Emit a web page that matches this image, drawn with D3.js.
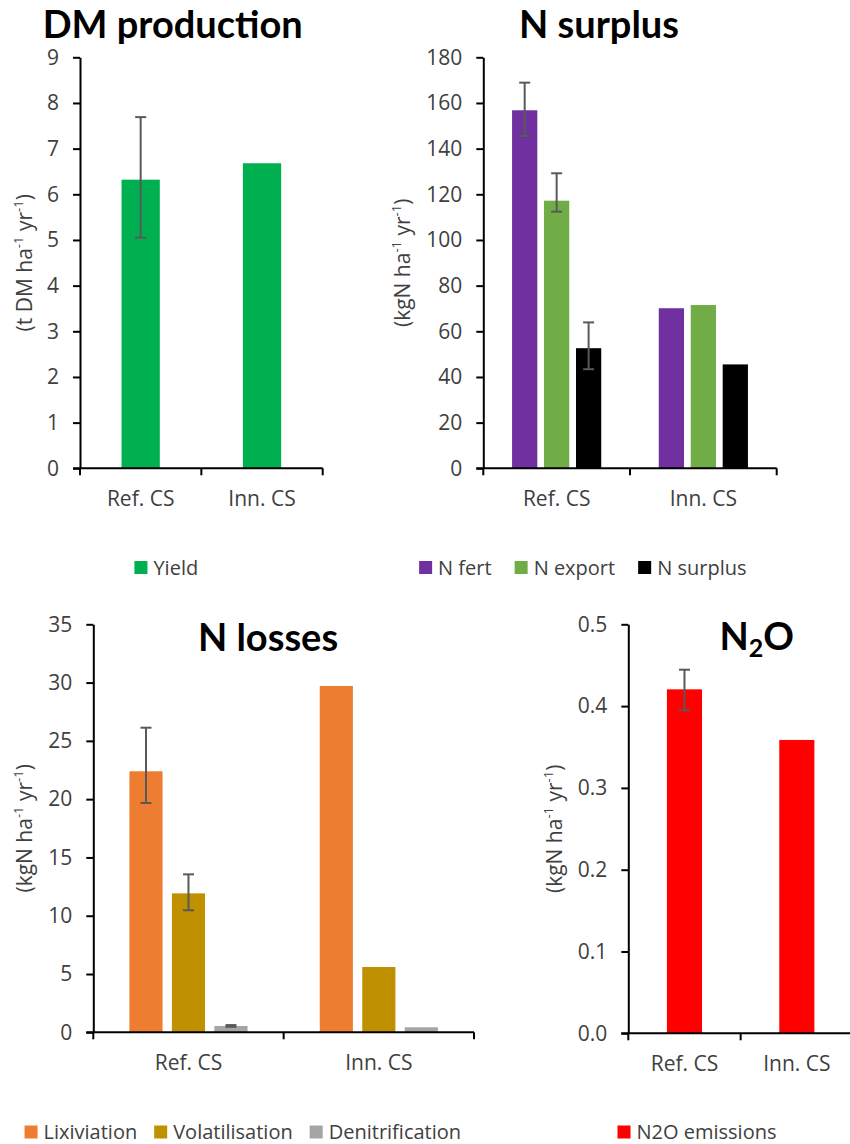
<!DOCTYPE html>
<html>
<head>
<meta charset="utf-8">
<script src="https://cdn.jsdelivr.net/npm/d3@7"></script>
<style>
  html, body { margin: 0; padding: 0; background: #fff; }
  svg { display: block; }
  text { font-family: "Open Sans", "DejaVu Sans", sans-serif; fill: #404040; }
  .title { font-family: Lato, "Open Sans", sans-serif; font-weight: bold; fill: #000; }
</style>
</head>
<body>
<svg id="chart" width="850" height="1144"></svg>
<script>
// ---------- DATA ----------
const categories = ["Ref. CS", "Inn. CS"];

// DM production
const dmSeries = ["Yield"];
const dmYield = [6.32, 6.68];
const dmYieldErrLow = [5.05, null];
const dmYieldErrHigh = [7.69, null];
const dmTicks = [0, 1, 2, 3, 4, 5, 6, 7, 8, 9];

// N surplus
const nsSeries = ["N fert", "N export", "N surplus"];
const nsFert = [156.8, 70.1];
const nsFertErrLow = [145.5, null];
const nsFertErrHigh = [168.9, null];
const nsExport = [117.2, 71.5];
const nsExportErrLow = [112.4, null];
const nsExportErrHigh = [129.2, null];
const nsSurplus = [52.6, 45.5];
const nsSurplusErrLow = [43.4, null];
const nsSurplusErrHigh = [63.9, null];
const nsTicks = [0, 20, 40, 60, 80, 100, 120, 140, 160, 180];

// N losses
const nlSeries = ["Lixiviation", "Volatilisation", "Denitrification"];
const nlLix = [22.39, 29.71];
const nlLixErrLow = [19.67, null];
const nlLixErrHigh = [26.13, null];
const nlVol = [11.92, 5.6];
const nlVolErrLow = [10.47, null];
const nlVolErrHigh = [13.55, null];
const nlDen = [0.54, 0.43];
const nlDenErrLow = [0.47, null];
const nlDenErrHigh = [0.62, null];
const nlTicks = [0, 5, 10, 15, 20, 25, 30, 35];

// N2O
const n2oSeries = ["N2O emissions"];
const n2oEmis = [0.4205, 0.3586];
const n2oEmisErrLow = [0.395, null];
const n2oEmisErrHigh = [0.4445, null];
const n2oTicks = [0, 0.1, 0.2, 0.3, 0.4, 0.5];

// ---------- STYLE / LAYOUT ----------
const svg = d3.select("#chart");
const ERR_COLOR = "#595959";
const AXIS_COLOR = "#000";
const FS = 21;
const LFS = 20;

const panels = [
  {
    series: dmSeries, colors: ["#00B050"],
    values: [dmYield], errLow: [dmYieldErrLow], errHigh: [dmYieldErrHigh],
    ticks: dmTicks, fmt: d3.format("d"),
    x0: 80, x1: 322.7, yTop: 57.3, yBot: 468.3,
    padInner: 0, padOuter: 1.085,
    ylabel: ["(t DM ha", "-1", " yr", "-1", ")"], ylabelX: 25,
    title: "DM production", titleX: 42.7, titleY: 38, titleAnchor: "start",
    legendCx: 166.3, legendY: 567.5, legendGap: 20
  },
  {
    series: nsSeries, colors: ["#7030A0", "#70AD47", "#000000"],
    values: [nsFert, nsExport, nsSurplus],
    errLow: [nsFertErrLow, nsExportErrLow, nsSurplusErrLow],
    errHigh: [nsFertErrHigh, nsExportErrHigh, nsSurplusErrHigh],
    ticks: nsTicks, fmt: d3.format("d"),
    x0: 483.3, x1: 776.7, yTop: 57.3, yBot: 468.3,
    padInner: 0.21, padOuter: 0.9,
    ylabel: ["(kgN ha", "-1", " yr", "-1", ")"], ylabelX: 403,
    title: "N surplus", titleX: 599, titleY: 38, titleAnchor: "middle",
    legendCx: 582.8, legendY: 567.5, legendGap: 23
  },
  {
    series: nlSeries, colors: ["#ED7D31", "#BF9000", "#A5A5A5"],
    values: [nlLix, nlVol, nlDen],
    errLow: [nlLixErrLow, nlVolErrLow, nlDenErrLow],
    errHigh: [nlLixErrHigh, nlVolErrHigh, nlDenErrHigh],
    ticks: nlTicks, fmt: d3.format("d"),
    x0: 93.3, x1: 474, yTop: 624.3, yBot: 1032.3,
    padInner: 0.22, padOuter: 0.85,
    ylabel: ["(kgN ha", "-1", " yr", "-1", ")"], ylabelX: 25,
    title: "N losses", titleX: 268, titleY: 651, titleAnchor: "middle",
    legendCx: 242.8, legendY: 1132, legendGap: 17
  },
  {
    series: n2oSeries, colors: ["#FF0000"],
    values: [n2oEmis], errLow: [n2oEmisErrLow], errHigh: [n2oEmisErrHigh],
    ticks: n2oTicks, fmt: d3.format(".1f"),
    x0: 628.3, x1: 853, yTop: 624.3, yBot: 1033.3,
    padInner: 0, padOuter: 1.1,
    ylabel: ["(kgN ha", "-1", " yr", "-1", ")"], ylabelX: 555,
    title: "N2O", titleX: 756.7, titleY: 650, titleAnchor: "middle", sub: true,
    legendCx: 697, legendY: 1132, legendGap: 20
  }
];

panels.forEach(p => {
  const g = svg.append("g");
  const x = d3.scaleBand().domain(categories).range([p.x0, p.x1]).paddingInner(0).paddingOuter(0);
  const xs = d3.scaleBand().domain(p.series).range([0, x.bandwidth()])
    .paddingInner(p.padInner).paddingOuter(p.padOuter);
  const ymax = p.ticks[p.ticks.length - 1];
  const y = d3.scaleLinear().domain([0, ymax]).range([p.yBot, p.yTop]);

  // bars
  p.series.forEach((s, si) => {
    const sg = g.append("g");
    sg.selectAll("rect").data(categories).join("rect")
      .attr("x", c => x(c) + xs(s))
      .attr("width", xs.bandwidth())
      .attr("y", (c, ci) => y(p.values[si][ci]))
      .attr("height", (c, ci) => y(0) - y(p.values[si][ci]))
      .attr("fill", p.colors[si]);
    // error bars
    const errData = categories.map((c, ci) => ({ c, lo: p.errLow[si][ci], hi: p.errHigh[si][ci] }))
      .filter(d => d.lo != null && d.hi != null);
    const eg = sg.selectAll("g.err").data(errData).join("g").attr("class", "err")
      .attr("stroke", ERR_COLOR).attr("stroke-width", 2);
    const cx = d => x(d.c) + xs(s) + xs.bandwidth() / 2;
    eg.append("line").attr("x1", cx).attr("x2", cx).attr("y1", d => y(d.lo)).attr("y2", d => y(d.hi));
    eg.append("line").attr("x1", d => cx(d) - 5.5).attr("x2", d => cx(d) + 5.5).attr("y1", d => y(d.lo)).attr("y2", d => y(d.lo));
    eg.append("line").attr("x1", d => cx(d) - 5.5).attr("x2", d => cx(d) + 5.5).attr("y1", d => y(d.hi)).attr("y2", d => y(d.hi));
  });

  // y axis
  const ya = g.append("g").attr("transform", `translate(${p.x0},0)`)
    .call(d3.axisLeft(y).tickValues(p.ticks).tickFormat(p.fmt).tickSize(7).tickSizeOuter(0).tickPadding(14));
  ya.select(".domain").attr("stroke", AXIS_COLOR).attr("stroke-width", 2);
  ya.selectAll(".tick line").attr("stroke", AXIS_COLOR).attr("stroke-width", 2);
  ya.selectAll(".tick text").attr("font-size", FS).attr("font-family", "'Open Sans', sans-serif").attr("fill", "#404040");

  // x axis (ticks at category boundaries)
  const xg = g.append("g");
  xg.append("line").attr("x1", p.x0 - 7).attr("x2", p.x1).attr("y1", y(0)).attr("y2", y(0))
    .attr("stroke", AXIS_COLOR).attr("stroke-width", 2);
  const bounds = categories.map(c => x(c)).concat([x.range()[1]]);
  xg.selectAll("line.tk").data(bounds).join("line").attr("class", "tk")
    .attr("x1", d => d).attr("x2", d => d).attr("y1", y(0)).attr("y2", y(0) + 7)
    .attr("stroke", AXIS_COLOR).attr("stroke-width", 2);
  xg.selectAll("text").data(categories).join("text")
    .attr("x", c => x(c) + x.bandwidth() / 2).attr("y", y(0) + 38)
    .attr("text-anchor", "middle").attr("font-size", FS).text(c => c);

  // y label
  const yl = g.append("text")
    .attr("transform", `translate(${p.ylabelX},${(p.yTop + p.yBot) / 2}) rotate(-90)`)
    .attr("text-anchor", "middle").attr("dy", "0.35em").attr("font-size", FS).attr("fill", "#000");
  p.ylabel.forEach((t, i) => {
    const ts = yl.append("tspan").text(t);
    if (i % 2 === 1) ts.attr("font-size", 13).attr("baseline-shift", "super");
  });

  // title
  const tt = g.append("text").attr("class", "title").attr("x", p.titleX).attr("y", p.titleY)
    .attr("text-anchor", p.titleAnchor).attr("font-size", 38);
  if (p.sub) {
    tt.append("tspan").text("N");
    tt.append("tspan").text("2").attr("font-size", 25).attr("dy", 7);
    tt.append("tspan").text("O").attr("dy", -7);
  } else {
    tt.text(p.title);
  }

  // legend
  const lg = g.append("g");
  const items = p.series.map((s, si) => {
    const it = lg.append("g");
    it.append("rect").attr("width", 13).attr("height", 13).attr("y", -6.5).attr("fill", p.colors[si]);
    const tx = it.append("text").attr("x", 19).attr("dy", "0.35em").attr("font-size", LFS).text(s);
    return { it, w: 19 + tx.node().getComputedTextLength() };
  });
  const total = d3.sum(items, d => d.w) + p.legendGap * (items.length - 1);
  let cur = p.legendCx - total / 2;
  items.forEach(d => {
    d.it.attr("transform", `translate(${cur},${p.legendY})`);
    cur += d.w + p.legendGap;
  });
});
</script>
</body>
</html>
